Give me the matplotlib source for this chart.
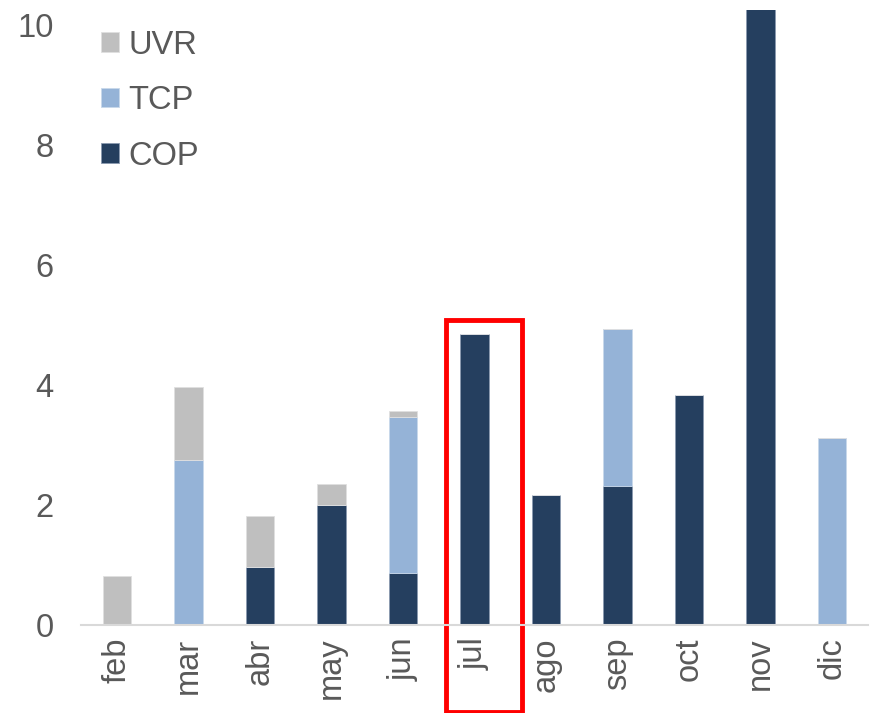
import matplotlib
matplotlib.use("Agg")
import matplotlib.pyplot as plt
from matplotlib.patches import Rectangle
import numpy as np

months = ["feb", "mar", "abr", "may", "jun", "jul", "ago", "sep", "oct", "nov", "dic"]
cop = [0.0, 0.0, 0.97, 2.0, 0.87, 4.85, 2.17, 2.32, 3.83, 10.3, 0.0]
tcp = [0.0, 2.75, 0.0, 0.0, 2.60, 0.0, 0.0, 2.61, 0.0, 0.0, 3.12]
uvr = [0.82, 1.22, 0.85, 0.35, 0.10, 0.0, 0.0, 0.0, 0.0, 0.0, 0.0]
highlight = "jul"

plt.rcParams["font.family"] = ["Liberation Sans", "DejaVu Sans"]
txt = "#595959"
fs = 23.5

fig = plt.figure(figsize=(8.73, 7.13), dpi=100)
ax = fig.add_axes([0.093, 0.1234, 0.901, 0.8626])

x = np.arange(len(months))
w = 0.4
c_cop, c_tcp, c_uvr = "#253F5F", "#95B3D7", "#BFBFBF"
ax.bar(x, cop, w, color=c_cop, edgecolor="#8a9ab0", linewidth=0.6, label="COP")
ax.bar(x, tcp, w, bottom=cop, color=c_tcp, edgecolor="#c8d8ea", linewidth=0.6, label="TCP")
bot = np.array(cop) + np.array(tcp)
ax.bar(x, uvr, w, bottom=bot, color=c_uvr, edgecolor="#e0e0e0", linewidth=0.6, label="UVR")

ax.set_xlim(-0.5, len(months) - 0.5)
ax.set_ylim(0, 10.25)
ax.set_yticks([0, 2, 4, 6, 8, 10])
ax.set_xticks(x)
ax.set_xticklabels(months, rotation=90)
ax.tick_params(axis="y", length=0, pad=20, labelsize=fs, labelcolor=txt)
ax.tick_params(axis="x", length=0, pad=9, labelsize=fs, labelcolor=txt)
for s in ["top", "right", "left"]:
    ax.spines[s].set_visible(False)
ax.spines["bottom"].set_color("#D9D9D9")
ax.spines["bottom"].set_linewidth(1.5)

h, l = ax.get_legend_handles_labels()
leg = ax.legend(h[::-1], l[::-1], loc="upper left", bbox_to_anchor=(0.0, 1.0),
                frameon=False, fontsize=fs, handlelength=0.55, handleheight=0.55,
                handletextpad=0.3, labelspacing=0.75, borderaxespad=0.2)
for t in leg.get_texts():
    t.set_color(txt)

i = months.index(highlight)
ax.add_patch(Rectangle((i - 0.4, -1.45), 1.06, 6.53, fill=False, edgecolor="#FF0000",
                       linewidth=3.5, clip_on=False))

fig.savefig("out.png", dpi=100)
